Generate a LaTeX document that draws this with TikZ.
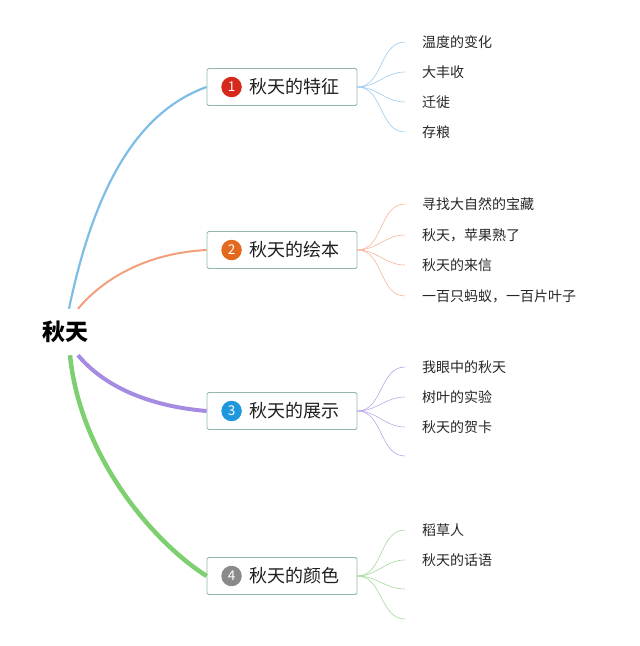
\documentclass[tikz,border=0pt]{standalone}
\usepackage{fontspec}
\setmainfont{Noto Sans CJK SC}
\usetikzlibrary{positioning}
\definecolor{bluebr}{HTML}{7DBDE6}
\definecolor{orangebr}{HTML}{F2A07C}
\definecolor{purplebr}{HTML}{A58CE2}
\definecolor{greenbr}{HTML}{7DCF6F}
\definecolor{bluefan}{HTML}{9CCBEC}
\definecolor{orangefan}{HTML}{F5B497}
\definecolor{purplefan}{HTML}{B7A8E8}
\definecolor{greenfan}{HTML}{A2D99A}
\definecolor{boxline}{HTML}{94B8AC}
\definecolor{numred}{HTML}{D5291C}
\definecolor{numorange}{HTML}{E3691F}
\definecolor{numblue}{HTML}{1E98DA}
\definecolor{numgray}{HTML}{8A8A8A}
\begin{document}
\begin{tikzpicture}[x=1pt,y=-1pt,
  branch/.style={draw=boxline,line width=0.8pt,rounded corners=1.5pt,fill=white,
    minimum width=150pt,minimum height=37pt,inner sep=0pt},
  num/.style={circle,fill=#1,text=white,inner sep=0pt,minimum size=20.5pt,
    font=\fontsize{13.5}{15}\selectfont},
  title/.style={inner sep=0pt,text=black!88,font=\fontsize{18}{20}\selectfont},
  leaf/.style={anchor=west,inner xsep=17pt,inner ysep=2pt,text=black!85,
    font=\fontsize{14}{16}\selectfont},
  fan/.style={draw=#1,line width=0.6pt},
]
\useasboundingbox (0,0) rectangle (640,646);

\node[inner sep=0pt,minimum height=46pt,font=\fontsize{23}{26}\selectfont\bfseries] (root) at (65,332) {秋天};

% branches
\node[branch] (b1) at (282,87) {};
\node[num=numred,right=14.5pt of b1.west] (n1) {1};
\node[title,right=7pt of n1] (t1) {秋天的特征};
\node[branch] (b2) at (282,250) {};
\node[num=numorange,right=14.5pt of b2.west] (n2) {2};
\node[title,right=7pt of n2] (t2) {秋天的绘本};
\node[branch] (b3) at (282,411) {};
\node[num=numblue,right=14.5pt of b3.west] (n3) {3};
\node[title,right=7pt of n3] (t3) {秋天的展示};
\node[branch] (b4) at (282,576) {};
\node[num=numgray,right=14.5pt of b4.west] (n4) {4};
\node[title,right=7pt of n4] (t4) {秋天的颜色};

\draw[bluebr,line width=2.2pt] ([xshift=4pt]root.north) .. controls +(25,-120) and +(-70,25) .. (b1.west);
\draw[orangebr,line width=2pt] ([xshift=13pt]root.north) .. controls +(25,-30) and +(-60,3) .. (b2.west);
\draw[purplebr,line width=4pt] ([xshift=13pt]root.south) .. controls +(25,30) and +(-60,-5) .. (b3.west);
\draw[greenbr,line width=4.5pt] ([xshift=5pt]root.south) .. controls +(10,100) and +(-55,-35) .. (b4.west);

% leaves
\node[leaf] (l11) at (405,42) {温度的变化};
\node[leaf] (l12) at (405,72) {大丰收};
\node[leaf] (l13) at (405,102) {迁徙};
\node[leaf] (l14) at (405,132) {存粮};
\node[leaf] (l21) at (405,204) {寻找大自然的宝藏};
\node[leaf] (l22) at (405,235) {秋天，苹果熟了};
\node[leaf] (l23) at (405,265) {秋天的来信};
\node[leaf] (l24) at (405,296) {一百只蚂蚁，一百片叶子};
\node[leaf] (l31) at (405,367) {我眼中的秋天};
\node[leaf] (l32) at (405,397) {树叶的实验};
\node[leaf] (l33) at (405,427) {秋天的贺卡};
\coordinate (l34) at (405,456);
\node[leaf] (l41) at (405,530) {稻草人};
\node[leaf] (l42) at (405,560) {秋天的话语};
\coordinate (l43) at (405,589);
\coordinate (l44) at (405,619);

\foreach \i in {1,...,4}
  \draw[fan=bluefan] (b1.east) to[out=0,in=180] (l1\i.west);
\foreach \i in {1,...,4}
  \draw[fan=orangefan] (b2.east) to[out=0,in=180] (l2\i.west);
\foreach \i in {1,2,3}
  \draw[fan=purplefan] (b3.east) to[out=0,in=180] (l3\i.west);
\draw[fan=purplefan] (b3.east) to[out=0,in=180] (l34);
\foreach \i in {1,2}
  \draw[fan=greenfan] (b4.east) to[out=0,in=180] (l4\i.west);
\foreach \i in {3,4}
  \draw[fan=greenfan] (b4.east) to[out=0,in=180] (l4\i);
\end{tikzpicture}
\end{document}
